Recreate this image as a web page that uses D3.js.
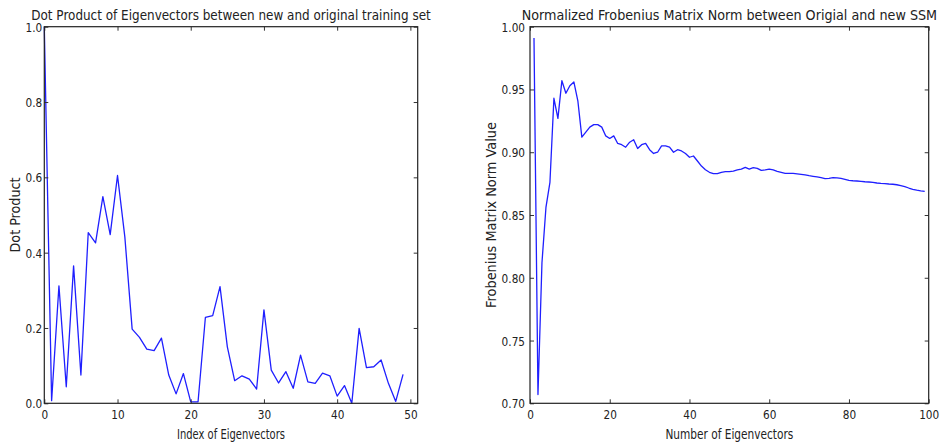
<!DOCTYPE html>
<html>
<head>
<meta charset="utf-8">
<script src="https://cdn.jsdelivr.net/npm/d3@7"></script>
<style>
  body { margin: 0; background: #fff; }
  svg text { font-family: "DejaVu Sans", sans-serif; fill: #222; }
</style>
</head>
<body>
<svg id="fig" width="943" height="445"></svg>
<script>
// Dot product between eigenvectors of the new and original training set (index 0..49)
const dotProduct = [1.0, 0.007, 0.312, 0.044, 0.365, 0.075, 0.453, 0.426, 0.549, 0.448,
  0.605, 0.442, 0.197, 0.175, 0.144, 0.140, 0.173, 0.075, 0.025, 0.079,
  0.004, 0.004, 0.228, 0.233, 0.310, 0.150, 0.060, 0.073, 0.064, 0.038,
  0.248, 0.088, 0.054, 0.084, 0.040, 0.128, 0.057, 0.053, 0.080, 0.073,
  0.019, 0.047, 0.000, 0.199, 0.095, 0.097, 0.115, 0.053, 0.005, 0.077];

// Normalized Frobenius norm for 1..99 eigenvectors
const frobNorm = [0.991, 0.707, 0.812, 0.856, 0.876, 0.943, 0.927, 0.957, 0.947, 0.953,
  0.956, 0.941, 0.912, 0.916, 0.920, 0.922, 0.922, 0.920, 0.913, 0.911,
  0.913, 0.907, 0.906, 0.904, 0.908, 0.910, 0.903, 0.906, 0.907, 0.902,
  0.899, 0.900, 0.905, 0.905, 0.904, 0.900, 0.902, 0.901, 0.899, 0.896,
  0.897, 0.893, 0.889, 0.886, 0.884, 0.883, 0.883, 0.884, 0.8845, 0.8845,
  0.885, 0.886, 0.8866, 0.888, 0.8866, 0.8877, 0.8872, 0.8856, 0.8859, 0.8866,
  0.8859, 0.8848, 0.884, 0.8832, 0.8832, 0.8831, 0.8828, 0.8824, 0.8819, 0.8813,
  0.8808, 0.8803, 0.8797, 0.879, 0.8792, 0.8797, 0.8795, 0.8791, 0.8784, 0.8776,
  0.8773, 0.8771, 0.8768, 0.8765, 0.8763, 0.876, 0.8755, 0.8752, 0.875, 0.8747,
  0.8745, 0.8741, 0.8734, 0.8726, 0.8715, 0.8705, 0.8698, 0.8693, 0.8689];

const dotXTicks = [0, 10, 20, 30, 40, 50];
const dotYTicks = [0.0, 0.2, 0.4, 0.6, 0.8, 1.0];
const frobXTicks = [0, 20, 40, 60, 80, 100];
const frobYTicks = [0.70, 0.75, 0.80, 0.85, 0.90, 0.95, 1.00];

const svg = d3.select("#fig");
const TICK = 4;

function squeeze(sel, factor) {
  sel.each(function () {
    const w = this.getComputedTextLength();
    d3.select(this).attr("textLength", w * factor).attr("lengthAdjust", "spacingAndGlyphs");
  });
}

// Draws a text centred at (x, y) and narrowed horizontally to the given width
function narrowText(parent, str, x, y, size, width, rotate) {
  const t = parent.append("text")
    .attr("text-anchor", "middle")
    .style("font-size", size + "px")
    .text(str);
  const sx = width / t.node().getComputedTextLength();
  t.attr("transform", rotate
    ? `translate(${x},${y}) rotate(-90) scale(${sx},1)`
    : `translate(${x},${y}) scale(${sx},1)`);
  return t;
}

function panel(cfg) {
  const { left, top, right, bottom } = cfg.box;
  const x = d3.scaleLinear().domain(cfg.xDomain).range([left, right]);
  const y = d3.scaleLinear().domain(cfg.yDomain).range([bottom, top]);
  const g = svg.append("g");

  // line
  g.append("path")
    .datum(cfg.values)
    .attr("fill", "none")
    .attr("stroke", "#1f1fff")
    .attr("stroke-width", 1.3)
    .attr("stroke-linejoin", "round")
    .attr("d", d3.line().x((d, i) => x(i + cfg.xOffset)).y(d => y(d)));

  // axes, ticks pointing inward on all four sides
  const axB = g.append("g").attr("transform", `translate(0,${bottom})`)
    .call(d3.axisBottom(x).tickValues(cfg.xTicks).tickFormat(d3.format("d"))
      .tickSize(-TICK).tickPadding(7));
  const axT = g.append("g").attr("transform", `translate(0,${top})`)
    .call(d3.axisTop(x).tickValues(cfg.xTicks).tickFormat("").tickSize(-TICK));
  const axL = g.append("g").attr("transform", `translate(${left},0)`)
    .call(d3.axisLeft(y).tickValues(cfg.yTicks).tickFormat(d3.format(cfg.yFmt))
      .tickSize(-TICK).tickPadding(cfg.yPad));
  const axR = g.append("g").attr("transform", `translate(${right},0)`)
    .call(d3.axisRight(y).tickValues(cfg.yTicks).tickFormat("").tickSize(-TICK));

  [axB, axT, axL, axR].forEach(a => {
    a.select(".domain").remove();
    a.selectAll("line").attr("stroke", "#333");
    a.selectAll("text").style("font-size", "12.5px").attr("fill", "#222");
  });
  axB.selectAll("text").attr("dy", "0.71em");
  axL.selectAll("text").attr("dy", "0.36em");
  squeeze(axB.selectAll("text"), 0.84);
  squeeze(axL.selectAll("text"), 0.84);

  // frame
  g.append("rect")
    .attr("x", left).attr("y", top)
    .attr("width", right - left).attr("height", bottom - top)
    .attr("fill", "none").attr("stroke", "#222").attr("stroke-width", 1.2);

  const cx = (left + right) / 2;
  const cy = (top + bottom) / 2;

  narrowText(g, cfg.title, cx, 20, 14.5, cfg.titleLen, false);
  narrowText(g, cfg.xLabel, cx, 439, 13.5, cfg.xLabelLen, false);
  narrowText(g, cfg.yLabel, cfg.yLabelX, cy, 13.5, cfg.yLabelLen, true);
}

panel({
  box: { left: 44.3, top: 26.7, right: 417.7, bottom: 403.3 },
  xDomain: [0, 51], yDomain: [0, 1],
  values: dotProduct, xOffset: 0,
  xTicks: dotXTicks, yTicks: dotYTicks, yFmt: ".1f", yPad: 2,
  title: "Dot Product of Eigenvectors between new and original training set", titleLen: 400,
  xLabel: "Index of Eigenvectors", xLabelLen: 108,
  yLabel: "Dot Product", yLabelLen: 75, yLabelX: 20
});

panel({
  box: { left: 530, top: 26.7, right: 928.7, bottom: 403.3 },
  xDomain: [0, 100], yDomain: [0.70, 1.00],
  values: frobNorm, xOffset: 1,
  xTicks: frobXTicks, yTicks: frobYTicks, yFmt: ".2f", yPad: 5,
  title: "Normalized Frobenius Matrix Norm between Origial and new SSM", titleLen: 416,
  xLabel: "Number of Eigenvectors", xLabelLen: 128,
  yLabel: "Frobenius Matrix Norm Value", yLabelLen: 186, yLabelX: 496
});
</script>
</body>
</html>
